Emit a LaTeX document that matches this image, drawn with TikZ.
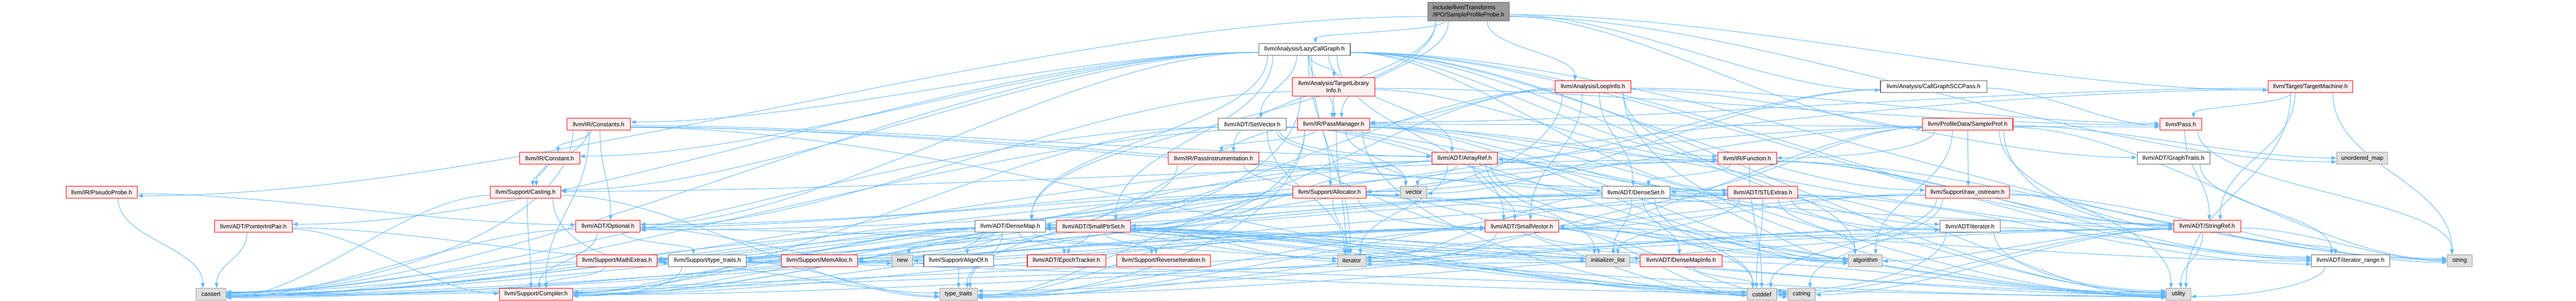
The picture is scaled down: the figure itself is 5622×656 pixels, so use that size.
\documentclass[tikz,border=0pt]{standalone}
\usepackage{fontspec}
\setmainfont{Liberation Sans}
\usetikzlibrary{arrows.meta}
\definecolor{edgec}{HTML}{63B8FF}
\definecolor{redfill}{HTML}{FFF0F0}
\definecolor{redline}{HTML}{FF0000}
\definecolor{greyfill}{HTML}{E0E0E0}
\definecolor{greyline}{HTML}{999999}
\definecolor{whiteline}{HTML}{666666}
\definecolor{topfill}{HTML}{999999}
\pgfdeclarelayer{bg}
\pgfsetlayers{bg,main}
\makeatletter
\newcommand\Eanc[4]{\pgfpointanchor{#1}{#2}\edef#3{\strip@pt\pgf@x}\edef#4{\strip@pt\pgf@y}}
\makeatother
\newcommand\E[2]{%
  \Eanc{#1}{center}{\Eax}{\Eay}%
  \Eanc{#1}{east}{\Eaex}{\Eaey}%
  \Eanc{#1}{south}{\Easx}{\Easy}%
  \Eanc{#2}{center}{\Ebx}{\Eby}%
  \Eanc{#2}{east}{\Ebex}{\Ebey}%
  \Eanc{#2}{north}{\Ebnx}{\Ebny}%
  \pgfmathsetmacro\Eaw{\Eaex-\Eax}%
  \pgfmathsetmacro\Ebw{\Ebex-\Ebx}%
  \pgfmathsetmacro\Eah{\Eay-\Easy}%
  \pgfmathsetmacro\Ebh{\Ebny-\Eby}%
  \pgfmathsetmacro\Edx{\Ebx-\Eax}%
  \pgfmathsetmacro\Edy{\Eay-\Eby}%
  \pgfmathsetmacro\Ejit{mod(int(abs(\Eax)+abs(\Eay)),17)-8}%
  \pgfmathtruncatemacro\Eside{abs(\Edx)>max(3*\Edy,500) ? 2 : (abs(\Edx)>max(2.2*\Edy,370) ? 1 : 0)}%
  \ifnum\Eside=2
    \pgfmathsetmacro\Esx{\Edx>0 ? \Eax+\Eaw : \Eax-\Eaw}%
    \pgfmathsetmacro\Esy{\Eay-max(-0.5*\Eah,min(0.5*\Eah,0.04*\Edy))}%
    \pgfmathsetmacro\Etx{\Edx>0 ? \Ebx-\Ebw : \Ebx+\Ebw}%
    \pgfmathsetmacro\Ety{\Eby+0.07*\Ebh*\Ejit}%
    \pgfmathsetmacro\EcAx{\Esx+0.3*(\Etx-\Esx)}%
    \pgfmathsetmacro\EcBx{\Etx-0.3*(\Etx-\Esx)}%
    \begin{pgfonlayer}{bg}
    \draw[edge] (\Esx pt,\Esy pt) .. controls (\EcAx pt,\Esy pt) and (\EcBx pt,\Ety pt) .. (\Etx pt,\Ety pt);
    \end{pgfonlayer}
  \else
  \pgfmathsetmacro\Esx{\Eax+max(-0.8*\Eaw,min(0.8*\Eaw,0.15*\Edx))}%
  \pgfmathsetmacro\Esy{\Easy}%
  \ifnum\Eside=1
    \pgfmathsetmacro\Etx{\Edx>0 ? \Ebx-\Ebw : \Ebx+\Ebw}%
    \pgfmathsetmacro\Ecx{\Edx>0 ? \Etx-0.4*abs(\Edx) : \Etx+0.4*abs(\Edx)}%
    \pgfmathsetmacro\Ety{\Eby+0.07*\Ebh*\Ejit}%
    \pgfmathsetmacro\Ecy{\Esy-0.55*(\Esy-\Eby)}%
    \begin{pgfonlayer}{bg}
    \draw[edge] (\Esx pt,\Esy pt) .. controls (\Esx pt,\Ecy pt) and (\Ecx pt,\Ety pt) .. (\Etx pt,\Ety pt);
    \end{pgfonlayer}
  \else
    \pgfmathsetmacro\Etx{\Ebx-max(-0.6*\Ebw,min(0.6*\Ebw,0.1*\Edx-1.5*\Ejit))}%
    \pgfmathsetmacro\Ety{\Ebny}%
    \pgfmathsetmacro\EcAy{\Esy-0.45*(\Esy-\Ety)}%
    \pgfmathsetmacro\EcBy{\Ety+0.45*(\Esy-\Ety)}%
    \begin{pgfonlayer}{bg}
    \draw[edge] (\Esx pt,\Esy pt) .. controls (\Esx pt,\EcAy pt) and (\Etx pt,\EcBy pt) .. (\Etx pt,\Ety pt);
    \end{pgfonlayer}
  \fi
  \fi
}
\tikzset{
  edge/.style={draw=edgec, line width=1.1pt, -{Triangle[length=11pt,width=8pt]}},
  nd/.style={line width=1.2pt, inner sep=0pt, minimum height=26pt, font=\fontsize{13}{15}\selectfont, align=center, text=black},
  rnode/.style={nd, fill=redfill, draw=redline},
  wnode/.style={nd, fill=white, draw=whiteline},
  gnode/.style={nd, fill=greyfill, draw=greyline},
  tnode/.style={nd, fill=topfill, draw=whiteline, minimum height=41pt, align=left},
}
\begin{document}
\begin{tikzpicture}[x=1pt,y=-1pt]
\useasboundingbox (0,0) rectangle (5622,656);
% row 0
\node[tnode, minimum width=178pt] (top) at (3205,25.5) {include/llvm/Transforms\\/IPO/SampleProfileProbe.h};
% row 1
\node[wnode, minimum width=200pt] (lcg) at (2847,107.5) {llvm/Analysis/LazyCallGraph.h};
% row 2
\node[rnode, minimum width=179pt, minimum height=41pt] (tli) at (2910.5,189.5) {llvm/Analysis/TargetLibrary\\Info.h};
\node[rnode, minimum width=165pt] (loop) at (3476.5,189) {llvm/Analysis/LoopInfo.h};
\node[wnode, minimum width=232pt] (cgscc) at (4220,189) {llvm/Analysis/CallGraphSCCPass.h};
\node[rnode, minimum width=185pt] (tm) at (5042.5,189) {llvm/Target/TargetMachine.h};
% row 3
\node[rnode, minimum width=139pt] (consts) at (1306.5,271) {llvm/IR/Constants.h};
\node[wnode, minimum width=148pt] (setv) at (2733,271) {llvm/ADT/SetVector.h};
\node[rnode, minimum width=157pt] (pm) at (2910.5,271) {llvm/IR/PassManager.h};
\node[rnode, minimum width=197pt] (sprof) at (4294.5,271) {llvm/ProfileData/SampleProf.h};
\node[rnode, minimum width=91pt] (pass) at (4759.5,271) {llvm/Pass.h};
% row 4
\node[rnode, minimum width=131pt] (const) at (1199.5,345.5) {llvm/IR/Constant.h};
\node[rnode, minimum width=197pt] (pinst) at (2648.5,345.5) {llvm/IR/PassInstrumentation.h};
\node[rnode, minimum width=143pt] (aref) at (3196.5,345.5) {llvm/ADT/ArrayRef.h};
\node[rnode, minimum width=128pt] (func) at (3813,345.5) {llvm/IR/Function.h};
\node[wnode, minimum width=159pt] (gtr) at (4743.5,345.5) {llvm/ADT/GraphTraits.h};
\node[gnode, minimum width=111pt] (umap) at (5155.5,345.5) {unordered\_map};
% row 5
\node[rnode, minimum width=156pt] (pprobe) at (222,419.5) {llvm/IR/PseudoProbe.h};
\node[rnode, minimum width=154pt] (cast) at (1147,419.5) {llvm/Support/Casting.h};
\node[rnode, minimum width=159pt] (alloc) at (2901.5,419.5) {llvm/Support/Allocator.h};
\node[gnode, minimum width=57pt] (vec) at (3085.5,419.5) {vector};
\node[wnode, minimum width=149pt] (dset) at (3570.5,419.5) {llvm/ADT/DenseSet.h};
\node[rnode, minimum width=153pt] (stlx) at (3847.5,419.5) {llvm/ADT/STLExtras.h};
\node[rnode, minimum width=184pt] (ros) at (4294,419.5) {llvm/Support/raw\_ostream.h};
% row 6
\node[rnode, minimum width=170pt] (pip) at (553,494) {llvm/ADT/PointerIntPair.h};
\node[rnode, minimum width=140pt] (opt) at (1327,494) {llvm/ADT/Optional.h};
\node[wnode, minimum width=154pt] (dmap) at (2205,494) {llvm/ADT/DenseMap.h};
\node[rnode, minimum width=161pt] (sps) at (2386.5,494) {llvm/ADT/SmallPtrSet.h};
\node[rnode, minimum width=161pt] (svec) at (3321.5,494) {llvm/ADT/SmallVector.h};
\node[wnode, minimum width=131pt] (iterh) at (4299.5,494) {llvm/ADT/iterator.h};
\node[rnode, minimum width=146pt] (sref) at (4817,494) {llvm/ADT/StringRef.h};
% row 7
\node[rnode, minimum width=175pt] (mathx) at (1346.5,568.5) {llvm/Support/MathExtras.h};
\node[wnode, minimum width=170pt] (stt) at (1544,568.5) {llvm/Support/type\_traits.h};
\node[rnode, minimum width=167pt] (memal) at (1788.5,568.5) {llvm/Support/MemAlloc.h};
\node[gnode, minimum width=45pt] (new) at (1969.5,568.5) {new};
\node[wnode, minimum width=152pt] (align) at (2092,568.5) {llvm/Support/AlignOf.h};
\node[rnode, minimum width=171pt] (epoch) at (2327.5,568.5) {llvm/ADT/EpochTracker.h};
\node[rnode, minimum width=205pt] (revit) at (2539.5,568.5) {llvm/Support/ReverseIteration.h};
\node[gnode, minimum width=62pt] (iter) at (2950,568.5) {iterator};
\node[gnode, minimum width=96pt] (initl) at (3509,568.5) {initializer\_list};
\node[rnode, minimum width=178pt] (dmi) at (3669,568.5) {llvm/ADT/DenseMapInfo.h};
\node[gnode, minimum width=74pt] (algo) at (4071,568.5) {algorithm};
\node[wnode, minimum width=170pt] (irange) at (5130,568.5) {llvm/ADT/iterator\_range.h};
\node[gnode, minimum width=54pt] (str) at (5368,568.5) {string};
% row 8
\node[gnode, minimum width=65pt] (cassert) at (460.5,642) {cassert};
\node[rnode, minimum width=160pt] (comp) at (1170,642) {llvm/Support/Compiler.h};
\node[gnode, minimum width=82pt] (tt) at (2092,642) {type\_traits};
\node[gnode, minimum width=64pt] (cstddef) at (3845,642) {cstddef};
\node[gnode, minimum width=60pt] (cstring) at (3932,642) {cstring};
\node[gnode, minimum width=53pt] (util) at (4754.5,642) {utility};
% edges
\E{top}{dmap}\E{top}{cgscc}\E{top}{lcg}\E{top}{loop}\E{top}{pinst}
\E{top}{pm}\E{top}{pprobe}\E{top}{sprof}\E{top}{tm}\E{top}{umap}
\E{lcg}{aref}\E{lcg}{dmap}\E{lcg}{opt}\E{lcg}{pip}\E{lcg}{stlx}
\E{lcg}{setv}\E{lcg}{sps}\E{lcg}{svec}\E{lcg}{sref}\E{lcg}{iterh}
\E{lcg}{irange}\E{lcg}{tli}\E{lcg}{const}\E{lcg}{consts}\E{lcg}{func}
\E{lcg}{pm}\E{lcg}{alloc}\E{lcg}{cast}\E{lcg}{ros}\E{lcg}{cassert}
\E{lcg}{iter}\E{lcg}{str}\E{lcg}{util}
\E{tli}{dmap}\E{tli}{opt}\E{tli}{func}\E{tli}{pm}\E{tli}{pass}
\E{loop}{dmap}\E{loop}{dset}\E{loop}{gtr}\E{loop}{sps}\E{loop}{svec}
\E{loop}{pm}\E{loop}{pass}\E{loop}{alloc}\E{loop}{algo}\E{loop}{util}
\E{cgscc}{aref}\E{cgscc}{pass}\E{cgscc}{vec}
\E{tm}{opt}\E{tm}{sref}\E{tm}{pm}\E{tm}{pass}\E{tm}{str}\E{tm}{util}
\E{consts}{aref}\E{consts}{opt}\E{consts}{stlx}\E{consts}{sref}\E{consts}{const}
\E{consts}{cast}\E{consts}{comp}\E{consts}{cassert}\E{consts}{cstddef}
\E{const}{cast}
\E{setv}{aref}\E{setv}{dset}\E{setv}{stlx}\E{setv}{comp}\E{setv}{algo}
\E{setv}{cassert}\E{setv}{iter}\E{setv}{vec}
\E{pm}{dmap}\E{pm}{stlx}\E{pm}{sps}\E{pm}{sref}\E{pm}{func}\E{pm}{pinst}
\E{pm}{pass}\E{pm}{algo}\E{pm}{cassert}\E{pm}{cstring}\E{pm}{iter}\E{pm}{tt}
\E{pm}{util}\E{pm}{vec}
\E{sprof}{dset}\E{sprof}{svec}\E{sprof}{sref}\E{sprof}{func}\E{sprof}{alloc}
\E{sprof}{mathx}\E{sprof}{ros}\E{sprof}{algo}\E{sprof}{str}\E{sprof}{umap}
\E{sprof}{util}
\E{pass}{sref}\E{pass}{str}
\E{pinst}{svec}\E{pinst}{tt}\E{pinst}{vec}
\E{aref}{svec}\E{aref}{stlx}\E{aref}{comp}\E{aref}{algo}\E{aref}{cassert}
\E{aref}{cstddef}\E{aref}{initl}\E{aref}{iter}\E{aref}{tt}\E{aref}{vec}
\E{func}{dset}\E{func}{sref}\E{func}{irange}\E{func}{cast}\E{func}{comp}
\E{func}{cassert}\E{func}{cstddef}\E{func}{str}
\E{gtr}{irange}
\E{pprobe}{opt}\E{pprobe}{cassert}
\E{cast}{comp}\E{cast}{stt}\E{cast}{cassert}\E{cast}{tt}
\E{alloc}{opt}\E{alloc}{svec}\E{alloc}{comp}\E{alloc}{mathx}\E{alloc}{memal}
\E{alloc}{algo}\E{alloc}{cassert}\E{alloc}{cstddef}\E{alloc}{iter}\E{alloc}{tt}
\E{alloc}{util}
\E{dset}{dmap}\E{dset}{dmi}\E{dset}{mathx}\E{dset}{stt}\E{dset}{algo}
\E{dset}{cstddef}\E{dset}{initl}\E{dset}{iter}\E{dset}{util}
\E{stlx}{opt}\E{stlx}{iterh}\E{stlx}{irange}\E{stlx}{algo}\E{stlx}{cassert}
\E{stlx}{cstddef}\E{stlx}{initl}\E{stlx}{iter}\E{stlx}{tt}\E{stlx}{util}
\E{ros}{svec}\E{ros}{sref}\E{ros}{cassert}\E{ros}{cstddef}\E{ros}{cstring}
\E{ros}{str}\E{ros}{tt}
\E{pip}{comp}\E{pip}{stt}\E{pip}{cassert}
\E{opt}{comp}\E{opt}{stt}\E{opt}{cassert}\E{opt}{new}\E{opt}{util}
\E{dmap}{dmi}\E{dmap}{epoch}\E{dmap}{align}\E{dmap}{comp}\E{dmap}{mathx}
\E{dmap}{memal}\E{dmap}{revit}\E{dmap}{stt}\E{dmap}{algo}\E{dmap}{cassert}
\E{dmap}{cstddef}\E{dmap}{cstring}\E{dmap}{initl}\E{dmap}{iter}\E{dmap}{new}
\E{dmap}{tt}\E{dmap}{util}
\E{sps}{epoch}\E{sps}{comp}\E{sps}{revit}\E{sps}{stt}\E{sps}{cassert}
\E{sps}{cstddef}\E{sps}{cstring}\E{sps}{initl}\E{sps}{iter}\E{sps}{util}
\E{svec}{irange}\E{svec}{comp}\E{svec}{memal}\E{svec}{stt}\E{svec}{algo}
\E{svec}{cassert}\E{svec}{cstddef}\E{svec}{cstring}\E{svec}{initl}\E{svec}{iter}
\E{svec}{new}\E{svec}{tt}\E{svec}{util}
\E{iterh}{irange}\E{iterh}{cstddef}\E{iterh}{iter}\E{iterh}{tt}\E{iterh}{util}
\E{sref}{irange}\E{sref}{comp}\E{sref}{algo}\E{sref}{cassert}\E{sref}{cstddef}
\E{sref}{cstring}\E{sref}{str}\E{sref}{tt}\E{sref}{util}
\E{mathx}{comp}\E{mathx}{cassert}\E{mathx}{cstring}\E{mathx}{tt}
\E{stt}{comp}\E{stt}{tt}\E{stt}{util}
\E{memal}{comp}
\E{align}{tt}
\E{dmi}{cassert}\E{dmi}{cstddef}\E{dmi}{util}
\E{irange}{util}
\end{tikzpicture}
\end{document}
